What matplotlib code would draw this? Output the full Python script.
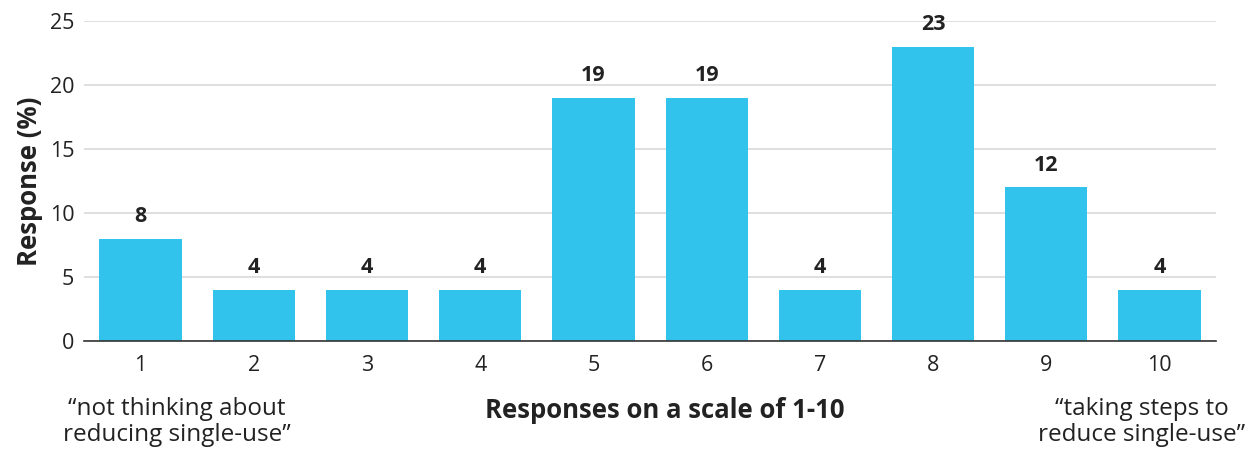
import matplotlib
matplotlib.use("Agg")
import matplotlib.pyplot as plt

scale_points = ["1", "2", "3", "4", "5", "6", "7", "8", "9", "10"]
response_pct = [8, 4, 4, 4, 19, 19, 4, 23, 12, 4]
y_ticks = [0, 5, 10, 15, 20, 25]

plt.rcParams["font.family"] = ["Open Sans", "DejaVu Sans"]
text_color = "#222222"
bar_color = "#31C3EB"

fig = plt.figure(figsize=(12.55, 4.49), dpi=100)
ax = fig.add_axes([0.0669, 0.2405, 0.9021, 0.7125])

x = list(range(1, len(scale_points) + 1))
ax.bar(x, response_pct, width=0.726, color=bar_color, zorder=3)

for xi, v in zip(x, response_pct):
    ax.annotate(f"{v}", (xi, v), xytext=(0, 12), textcoords="offset points",
                ha="center", va="baseline", fontsize=15.5, fontweight="bold",
                color=text_color)

ax.set_xlim(0.5, 10.5)
ax.set_ylim(0, 25)
ax.set_yticks(y_ticks)
ax.set_xticks(x)
ax.set_xticklabels(scale_points)
ax.tick_params(axis="both", length=0, labelsize=15.5, colors=text_color)
ax.tick_params(axis="x", pad=10)
ax.tick_params(axis="y", pad=7)
ax.grid(axis="y", color="#d9d9d9", linewidth=1.2, zorder=0)
for s in ["top", "right", "left"]:
    ax.spines[s].set_visible(False)
ax.spines["bottom"].set_color("#333333")
ax.spines["bottom"].set_linewidth(1.2)
ax.spines["bottom"].set_zorder(4)

ax.set_ylabel("Response (%)", fontsize=18.5, fontweight="bold", color=text_color,
              labelpad=5)

fig.text(665 / 1255, 1 - 411 / 449, "Responses on a scale of 1-10",
         ha="center", va="center", fontsize=18.5, fontweight="bold", color=text_color)
fig.text(177 / 1255, 1 - 422 / 449, "\u201cnot thinking about\nreducing single-use\u201d",
         ha="center", va="center", fontsize=17.5, color=text_color, linespacing=1.15)
fig.text(1142 / 1255, 1 - 422 / 449, "\u201ctaking steps to\nreduce single-use\u201d",
         ha="center", va="center", fontsize=17.5, color=text_color, linespacing=1.15)

fig.savefig("out.png", dpi=100)
